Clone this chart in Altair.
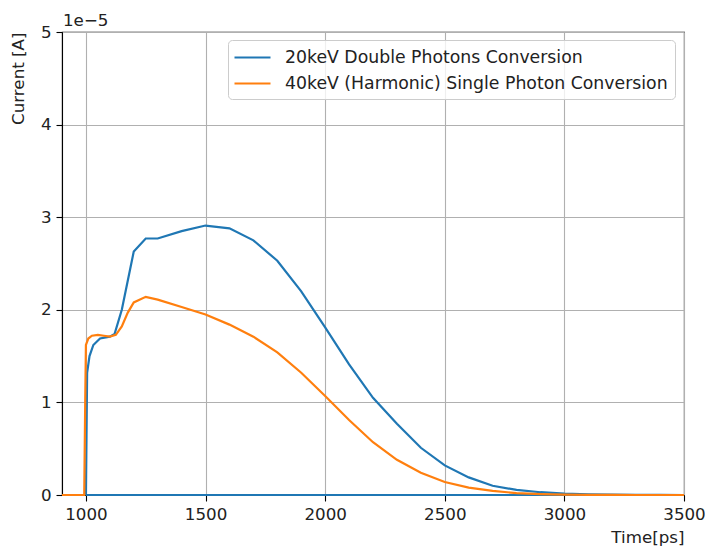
import altair as alt
import pandas as pd

# --- data (current in units of 1e-5 A) ---
blue_x = [1000, 1005, 1015, 1031, 1059, 1100, 1120, 1150, 1200, 1250, 1300, 1400, 1500,
          1600, 1700, 1800, 1900, 2000, 2100, 2200, 2300, 2400, 2500, 2600, 2700, 2800,
          2900, 3000, 3100, 3200, 3300, 3400, 3500]
blue_y = [0, 1.32, 1.50, 1.62, 1.69, 1.71, 1.74, 2.00, 2.63, 2.77, 2.77, 2.85, 2.91,
          2.88, 2.75, 2.53, 2.20, 1.81, 1.41, 1.05, 0.77, 0.51, 0.32, 0.19, 0.10, 0.055,
          0.03, 0.015, 0.007, 0.003, 0.001, 0.0005, 0]
blue_base_x = [1000, 3500]
blue_base_y = [0, 0]

orange_x = [900, 993, 997, 1000, 1010, 1025, 1050, 1075, 1100, 1125, 1150, 1175, 1200,
            1250, 1300, 1400, 1500, 1600, 1700, 1800, 1900, 2000, 2100, 2200, 2300, 2400,
            2500, 2600, 2700, 2800, 2900, 3000, 3100, 3200, 3300, 3400, 3500]
orange_y = [0, 0, 1.0, 1.62, 1.69, 1.72, 1.73, 1.72, 1.71, 1.73, 1.82, 1.97, 2.08,
            2.14, 2.11, 2.03, 1.95, 1.84, 1.71, 1.54, 1.32, 1.07, 0.81, 0.57, 0.38, 0.24,
            0.14, 0.08, 0.045, 0.02, 0.01, 0.005, 0.002, 0.001, 0, 0, 0]

series_names = ["20keV Double Photons Conversion", "40keV (Harmonic) Single Photon Conversion"]
series_colors = ["#1f77b4", "#ff7f0e"]
x_ticks = [1000, 1500, 2000, 2500, 3000, 3500]
y_ticks = [0, 1, 2, 3, 4, 5]

FONT = "DejaVu Sans"
FS = 16.7
LFS = 17.3

blue_df = pd.concat([
    pd.DataFrame({"x": blue_base_x, "y": blue_base_y, "series": series_names[0], "seg": "base", "o": range(len(blue_base_x))}),
    pd.DataFrame({"x": blue_x, "y": blue_y, "series": series_names[0], "seg": "curve", "o": range(len(blue_x))}),
])
orange_df = pd.DataFrame({"x": orange_x, "y": orange_y, "series": series_names[1], "seg": "curve", "o": range(len(orange_x))})

xenc = alt.X("x:Q", scale=alt.Scale(domain=[900, 3500], nice=False, zero=False),
             axis=alt.Axis(values=x_ticks, title="Time[ps]", titleAnchor="end",
                           titleAlign="right", titleBaseline="top", titleX=622, titleY=34,
                           format="d", labelFlush=False))
yenc = alt.Y("y:Q", scale=alt.Scale(domain=[0, 5], nice=False),
             axis=alt.Axis(values=y_ticks, title="Current [A]", titleAngle=-90,
                           titleAlign="right", titleBaseline="bottom", titleX=-35, titleY=0,
                           format="d", labelFlush=False))
color = alt.Color("series:N", scale=alt.Scale(domain=series_names, range=series_colors),
                  legend=alt.Legend(title=None, orient="none", legendX=166, legendY=8,
                                    symbolType="M-2,0L2,0", symbolSize=324, symbolStrokeWidth=2.2,
                                    symbolOffset=7,
                                    labelFontSize=LFS, labelFont=FONT, labelColor="#222",
                                    labelOffset=22, rowPadding=7, padding=7,
                                    fillColor="rgba(255,255,255,0.8)", strokeColor="#cccccc",
                                    cornerRadius=4, labelLimit=500))

blue = alt.Chart(blue_df).mark_line(strokeWidth=2.2).encode(
    x=xenc, y=yenc, color=color, detail="seg:N", order="o:Q")
orange = alt.Chart(orange_df).mark_line(strokeWidth=2.2).encode(
    x=xenc, y=yenc, color=color, order="o:Q")

offset_df = pd.DataFrame({"t": ["1e\u22125"]})
offset = alt.Chart(offset_df).mark_text(align="left", baseline="alphabetic", fontSize=FS,
                                        font=FONT, color="#222").encode(
    x=alt.value(1), y=alt.value(-6), text="t:N")

chart = alt.layer(blue, orange, offset).properties(
    width=622, height=463,
    background="white",
    autosize=alt.AutoSizeParams(type="none"),
    padding={"left": 62, "top": 32, "right": 21, "bottom": 52},
).configure_axis(
    grid=True, gridColor="#b0b0b0", gridWidth=1.1,
    domain=True, domainColor="black", domainWidth=1.1,
    tickColor="black", tickSize=6, tickWidth=1.1,
    labelFont=FONT, labelFontSize=FS, labelColor="#222", labelPadding=5,
    titleFont=FONT, titleFontSize=FS, titleColor="#222", titleFontWeight="normal",
).configure_view(stroke="black", strokeWidth=1.1)

chart.save("out.html", embed_options={"renderer": "svg", "actions": False})
